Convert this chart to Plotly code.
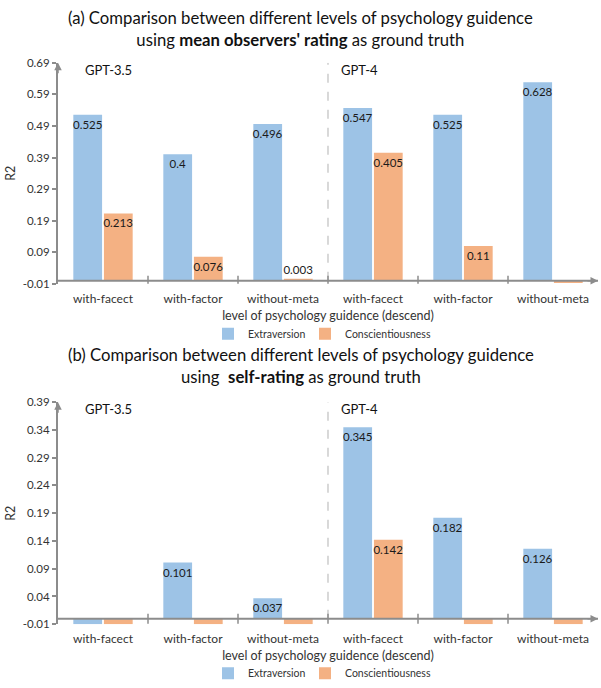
import plotly.graph_objects as go

# Categories: three guidance levels for each model (GPT-3.5, then GPT-4)
categories = ["with-facect", "with-factor", "without-meta",
              "with-facect", "with-factor", "without-meta"]

# (a) mean observers' rating as ground truth
extra_a = [0.525, 0.4, 0.496, 0.547, 0.525, 0.628]
consc_a = [0.213, 0.076, 0.003, 0.405, 0.11, -0.007]
labeled_a_extra = [True, True, True, True, True, True]
labeled_a_consc = [True, True, True, True, True, False]

# (b) self-rating as ground truth
extra_b = [-0.01, 0.101, 0.037, 0.345, 0.182, 0.126]
consc_b = [-0.01, -0.01, -0.01, 0.142, -0.01, -0.01]
labeled_b_extra = [False, True, True, True, True, True]
labeled_b_consc = [False, False, False, True, False, False]

ticks_a = [-0.01, 0.09, 0.19, 0.29, 0.39, 0.49, 0.59, 0.69]
ticks_b = [-0.01, 0.04, 0.09, 0.14, 0.19, 0.24, 0.29, 0.34, 0.39]

BLUE = "#9DC3E6"
ORANGE = "#F4B183"
AXIS = "#8C8C8C"
FONT = "Lato"
W, H = 601, 688

xs = list(range(len(categories)))


def px_y(p):
    return 1 - p / H


def labels(values, flags):
    text, pos = [], []
    for v, f in zip(values, flags):
        if not f:
            text.append("")
            pos.append("none")
        else:
            text.append(f"{v:g}")
            pos.append("inside" if v > 0.02 else "outside")
    return text, pos


fig = go.Figure()

# each series gets its own one-entry legend so the two entries can be spaced freely
panels = [
    dict(ext=extra_a, con=consc_a, fe=labeled_a_extra, fc=labeled_a_consc,
         xa="x", ya="y", legends=("legend", "legend2")),
    dict(ext=extra_b, con=consc_b, fe=labeled_b_extra, fc=labeled_b_consc,
         xa="x2", ya="y2", legends=("legend3", "legend4")),
]

for p in panels:
    for (name, vals, flags, color), lg in zip(
            [("Extraversion", p["ext"], p["fe"], BLUE),
             ("Conscientiousness", p["con"], p["fc"], ORANGE)], p["legends"]):
        text, pos = labels(vals, flags)
        fig.add_trace(go.Bar(
            x=xs, y=vals, name=name, marker=dict(color=color, line=dict(width=0)),
            text=text, textposition=pos, insidetextanchor="end",
            textfont=dict(family=FONT, size=11.5, color="#1a1a1a"),
            textangle=0, cliponaxis=False,
            xaxis=p["xa"], yaxis=p["ya"], legend=lg, hoverinfo="skip",
        ))

x_dom = [58 / W, 598 / W]
axis_common = dict(showgrid=False, zeroline=False, showline=True,
                   linecolor=AXIS, linewidth=2, ticks="outside", ticklen=4,
                   tickcolor=AXIS, tickwidth=1.5,
                   tickfont=dict(family=FONT, size=11.5, color="#333"))

xaxis_common = dict(domain=x_dom, range=[-0.5, 5.5], tickvals=xs,
                    ticktext=categories, showline=False, showgrid=False, zeroline=False,
                    ticks="", ticklabelstandoff=6,
                    tickfont=dict(family=FONT, size=12, color="#333"),
                    title=dict(text="level of psychology guidence (descend)", standoff=6,
                               font=dict(family=FONT, size=12.5, color="#333")))

legend_common = dict(orientation="h", xanchor="left", yanchor="middle",
                     font=dict(family=FONT, size=10.5, color="#333"),
                     itemwidth=30, bgcolor="rgba(0,0,0,0)")

fig.update_layout(
    width=W, height=H, margin=dict(l=0, r=0, t=0, b=0),
    paper_bgcolor="white", plot_bgcolor="white",
    barmode="group", bargap=0.32, bargroupgap=0.06,
    showlegend=True,
    uniformtext=dict(minsize=11, mode="show"),
    xaxis=dict(anchor="y", **xaxis_common),
    yaxis=dict(domain=[px_y(283), px_y(57)], anchor="x", range=[-0.01, 0.69],
               tickvals=ticks_a, ticktext=[f"{t:g}" for t in ticks_a],
               title=dict(text="R2", standoff=4, font=dict(family=FONT, size=12.5, color="#333")),
               **axis_common),
    xaxis2=dict(anchor="y2", **xaxis_common),
    yaxis2=dict(domain=[px_y(631), px_y(404)], anchor="x2", range=[-0.01, 0.39],
                tickvals=ticks_b, ticktext=[f"{t:g}" for t in ticks_b],
                title=dict(text="R2", standoff=4, font=dict(family=FONT, size=12.5, color="#333")),
                **axis_common),
    legend=dict(x=208 / W, y=px_y(334), **legend_common),
    legend2=dict(x=305 / W, y=px_y(334), **legend_common),
    legend3=dict(x=208 / W, y=px_y(681), **legend_common),
    legend4=dict(x=305 / W, y=px_y(681), **legend_common),
)

titles = [
    ("(a) Comparison between different levels of psychology guidence<br>"
     "using <b>mean observers' rating</b> as ground truth", 23),
    ("(b) Comparison between different levels of psychology guidence<br>"
     "using  <b>self-rating</b> as ground truth", 367),
]
for txt, yc in titles:
    fig.add_annotation(text=txt, xref="paper", yref="paper", x=0.5, y=px_y(yc),
                       xanchor="center", yanchor="middle", showarrow=False,
                       font=dict(family=FONT, size=16.7, color="#111"))

for xa, ya, top in [("x", "y", 0.69), ("x2", "y2", 0.39)]:
    # horizontal axis line at zero with arrow
    fig.add_shape(type="line", xref=f"{xa} domain", yref=ya, x0=0, x1=1, y0=0, y1=0,
                  line=dict(color=AXIS, width=2), layer="above")
    fig.add_annotation(xref=f"{xa} domain", yref=ya, x=1.0, y=0, ax=-12, ay=0,
                       showarrow=True, arrowhead=2, arrowsize=1, arrowwidth=1.5,
                       arrowcolor=AXIS, text="")
    fig.add_annotation(xref=f"{xa} domain", yref=f"{ya} domain", x=0, y=1.0, ax=0, ay=12,
                       showarrow=True, arrowhead=2, arrowsize=1, arrowwidth=1.5,
                       arrowcolor=AXIS, text="")
    # category boundary ticks
    for b in [0.5, 1.5, 2.5, 3.5, 4.5]:
        fig.add_shape(type="line", xref=xa, yref=ya, x0=b, x1=b,
                      ysizemode="pixel", yanchor=0, y0=-5, y1=5,
                      line=dict(color=AXIS, width=1.5), layer="above")
    # model divider
    fig.add_shape(type="line", xref=xa, yref=ya, x0=2.5, x1=2.5, y0=0, y1=top,
                  line=dict(color="#BFBFBF", width=1.2, dash="dash"), layer="below")
    fig.add_annotation(text="GPT-3.5", xref=xa, yref=f"{ya} domain", x=-0.22, y=0.968,
                       xanchor="left", yanchor="middle", showarrow=False,
                       font=dict(family=FONT, size=13, color="#111"))
    fig.add_annotation(text="GPT-4", xref=xa, yref=f"{ya} domain", x=2.62, y=0.968,
                       xanchor="left", yanchor="middle", showarrow=False,
                       font=dict(family=FONT, size=13, color="#111"))

fig.write_html("out.html")
